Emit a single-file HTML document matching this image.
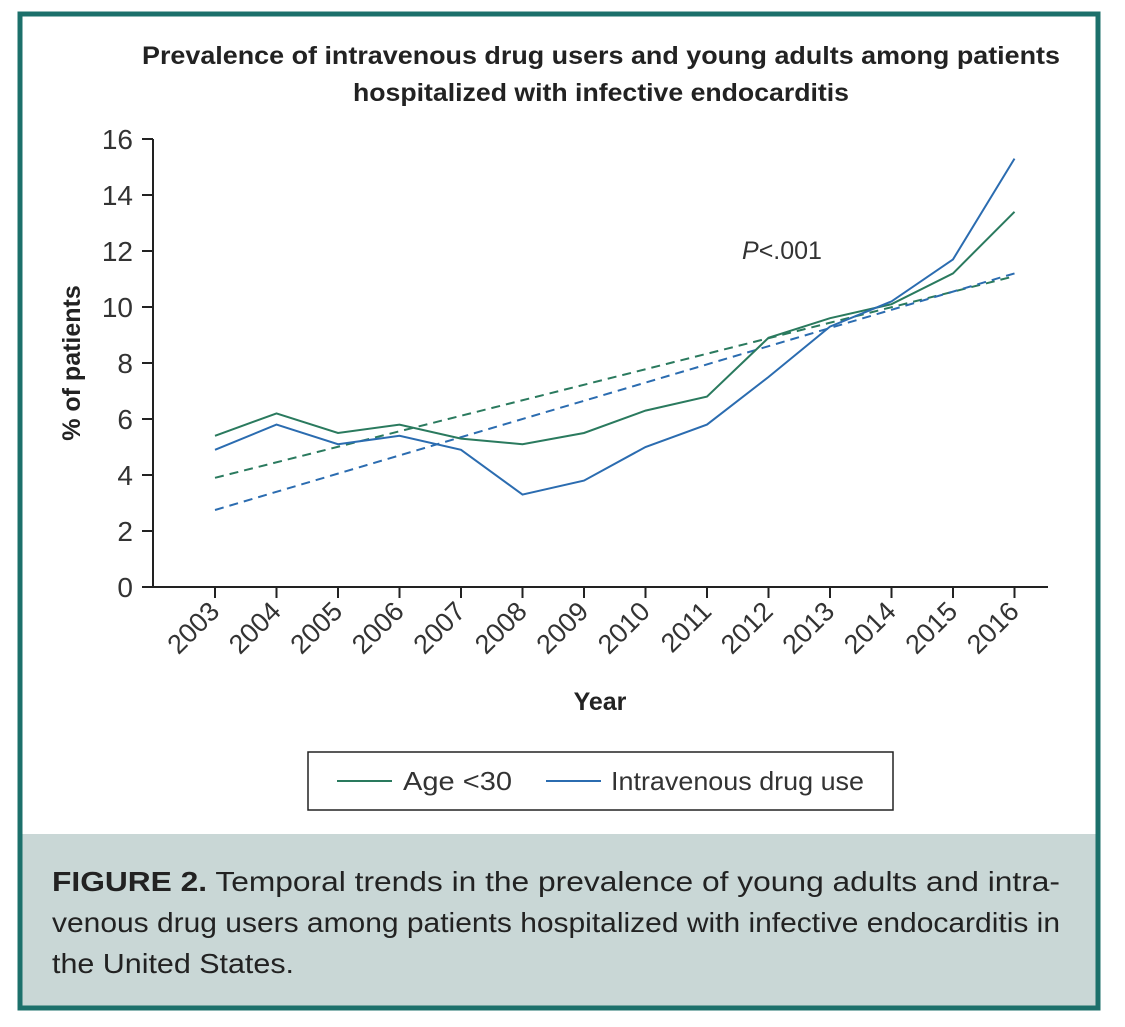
<!DOCTYPE html>
<html><head><meta charset="utf-8"><style>
body{margin:0;background:#fff;}
svg{display:block;font-family:"Liberation Sans",sans-serif;}
</style></head><body>
<svg id="chart" width="1125" height="1027" viewBox="0 0 1125 1027" xmlns="http://www.w3.org/2000/svg">
<rect x="20" y="14" width="1078" height="994" fill="#fff" stroke="#1c706b" stroke-width="5"/>
<rect x="22.5" y="834" width="1073" height="171.5" fill="#c9d7d6"/>
<text x="142" y="64" font-size="25" font-weight="bold" fill="#222" textLength="918" lengthAdjust="spacingAndGlyphs">Prevalence of intravenous drug users and young adults among patients</text>
<text x="353" y="101" font-size="25" font-weight="bold" fill="#222" textLength="496" lengthAdjust="spacingAndGlyphs">hospitalized with infective endocarditis</text>
<text transform="translate(80,363) rotate(-90)" text-anchor="middle" font-size="25" font-weight="bold" fill="#222">% of patients</text>
<text x="600" y="710" text-anchor="middle" font-size="25" font-weight="bold" fill="#222">Year</text>
<text x="742" y="259" font-size="25" fill="#333"><tspan font-style="italic">P</tspan>&lt;.001</text>
<g id="axes"></g>
<g id="marks"></g>
<rect x="308" y="752" width="585" height="58" fill="none" stroke="#222" stroke-width="1.5"/>
<line x1="337" y1="781" x2="392" y2="781" stroke="#2a7a5e" stroke-width="2"/>
<text x="403" y="790" font-size="26" fill="#333" textLength="109" lengthAdjust="spacingAndGlyphs">Age &lt;30</text>
<line x1="546" y1="781" x2="601" y2="781" stroke="#2b6cb0" stroke-width="2"/>
<text x="611" y="790" font-size="26" fill="#333" textLength="253" lengthAdjust="spacingAndGlyphs">Intravenous drug use</text>
<text font-size="28" fill="#222">
<tspan x="52" y="891" textLength="1008" lengthAdjust="spacingAndGlyphs"><tspan font-weight="bold">FIGURE 2.</tspan> Temporal trends in the prevalence of young adults and intra-</tspan>
<tspan x="52" y="932" textLength="1008" lengthAdjust="spacingAndGlyphs">venous drug users among patients hospitalized with infective endocarditis in</tspan>
<tspan x="52" y="973" textLength="242" lengthAdjust="spacingAndGlyphs">the United States.</tspan>
</text>
</svg>
<script>
const years = [2003,2004,2005,2006,2007,2008,2009,2010,2011,2012,2013,2014,2015,2016];
const ageUnder30 = [5.4,6.2,5.5,5.8,5.3,5.1,5.5,6.3,6.8,8.9,9.6,10.1,11.2,13.4];
const ivdu = [4.9,5.8,5.1,5.4,4.9,3.3,3.8,5.0,5.8,7.5,9.3,10.2,11.7,15.3];
const ageTrend = [3.9,11.1];
const ivduTrend = [2.75,11.2];
const yTicks = [0,2,4,6,8,10,12,14,16];

const NS="http://www.w3.org/2000/svg";
const x = i => 215 + i*61.5;
const y = v => 587 - v*28;
const axes=document.getElementById('axes'), marks=document.getElementById('marks');
function mk(tag, attrs, parent){const e=document.createElementNS(NS,tag);for(const k in attrs)e.setAttribute(k,attrs[k]);parent.appendChild(e);return e;}

let yl=mk('line',{x1:153,y1:y(16),x2:153,y2:587,stroke:'#222','stroke-width':2},axes);


let xl=mk('line',{x1:142,y1:587,x2:1048,y2:587,stroke:'#222','stroke-width':2},axes);


yTicks.forEach(v=>{
  let t=mk('line',{x1:142,y1:y(v),x2:153,y2:y(v),stroke:'#222','stroke-width':2},axes);
  
  
  let l=mk('text',{x:133,y:y(v)+10,'text-anchor':'end','font-size':28,fill:'#333'},axes);
  l.textContent=v;
  
  
});
years.forEach((yr,i)=>{
  let t=mk('line',{x1:x(i),y1:587,x2:x(i),y2:598,stroke:'#222','stroke-width':2},axes);
  
  
  let l=mk('text',{transform:`translate(${x(i)+6},${613}) rotate(-45)`,'text-anchor':'end','font-size':27,fill:'#333'},axes);
  l.textContent=yr;
  
  
});
function series(vals,color,name){
  let p=mk('polyline',{points:vals.map((v,i)=>x(i)+','+y(v)).join(' '),fill:'none',stroke:color,'stroke-width':2},marks);
  
  
}
function trend(tr,color,name){
  let p=mk('line',{x1:x(0),y1:y(tr[0]),x2:x(years.length-1),y2:y(tr[1]),stroke:color,'stroke-width':2,'stroke-dasharray':'9,6'},marks);
  
  
}
trend(ageTrend,'#2a7a5e','trend-line-age');
trend(ivduTrend,'#2b6cb0','trend-line-ivdu');
series(ageUnder30,'#2a7a5e','line-age-under-30');
series(ivdu,'#2b6cb0','line-intravenous-drug-use');
</script>
</body></html>
